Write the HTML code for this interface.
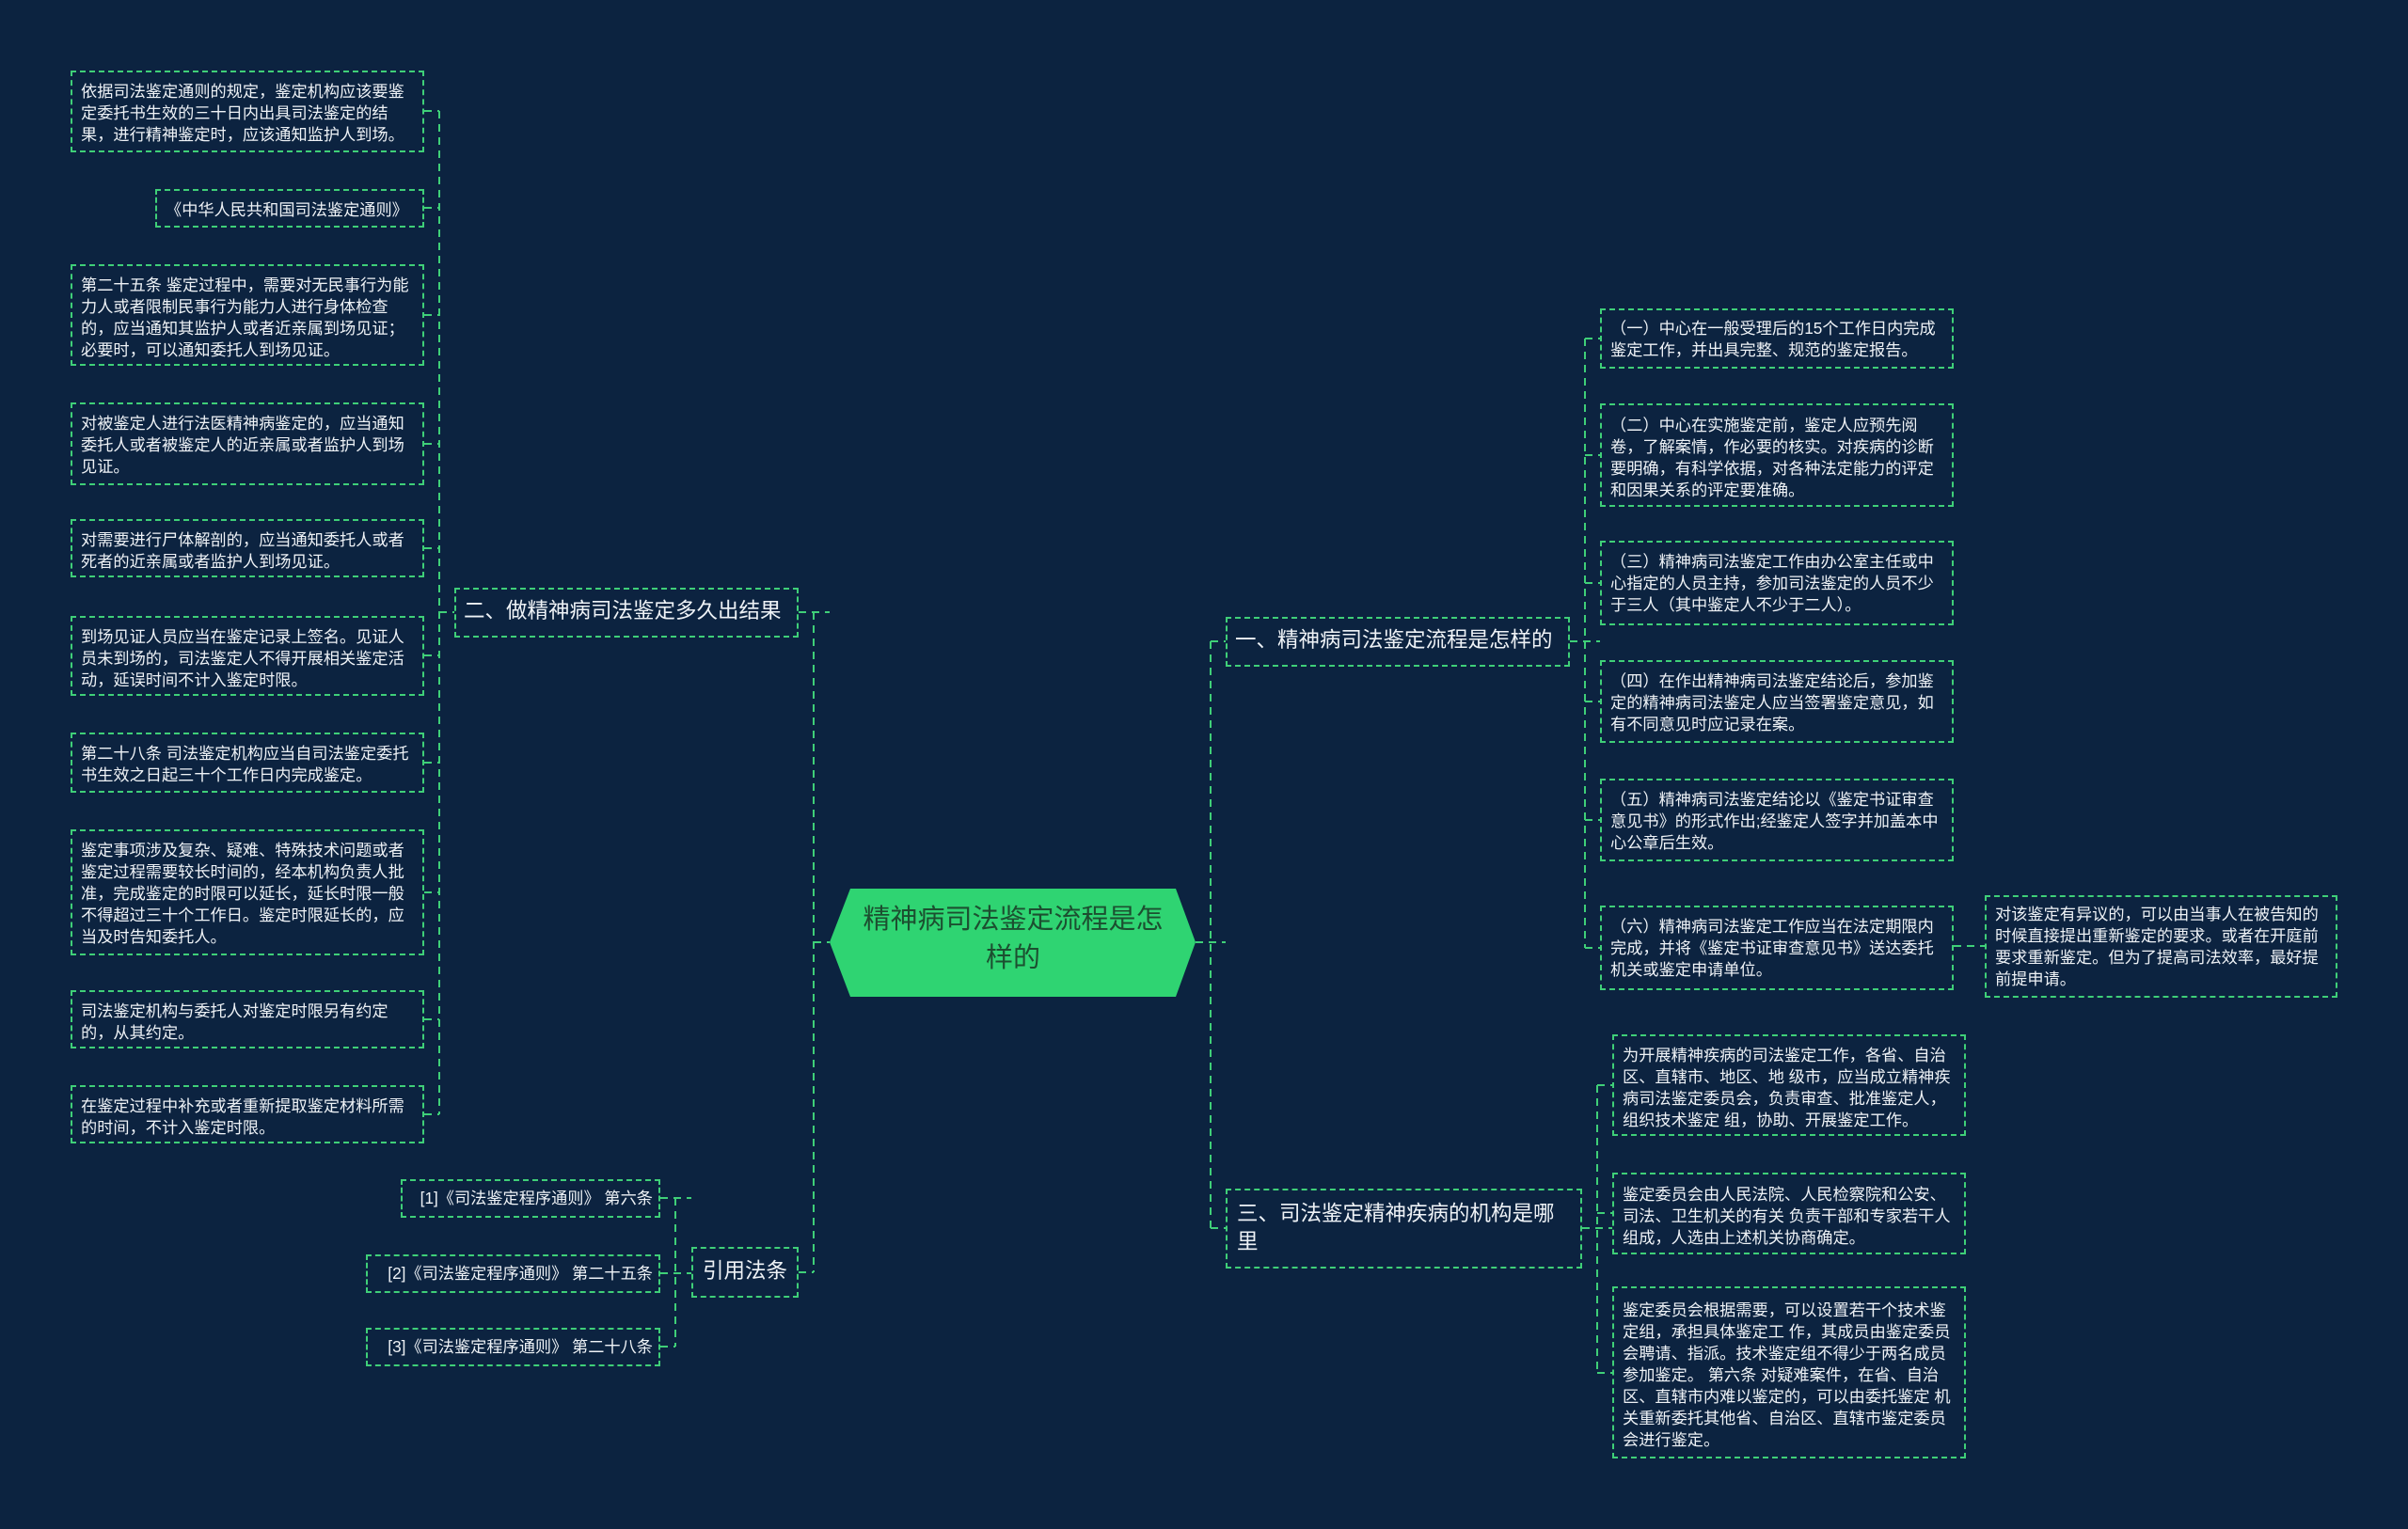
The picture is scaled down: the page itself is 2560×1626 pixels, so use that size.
<!DOCTYPE html>
<html><head><meta charset="utf-8">
<style>
html,body{margin:0;padding:0;}
body{width:2560px;height:1626px;background:#0c2340;position:relative;overflow:hidden;font-family:"Liberation Sans","Noto Sans CJK SC",sans-serif;}
.b{position:absolute;box-sizing:border-box;border:2px dashed #3fcf78;color:#eef2f6;font-size:17.2px;line-height:23px;padding:9px 6px 0 9px;}
.m{position:absolute;box-sizing:border-box;border:2px dashed #3fcf78;color:#eef2f6;font-size:22.5px;line-height:30px;padding:10px 8px;}
.nw{white-space:nowrap;}
svg{position:absolute;left:0;top:0;}
</style></head><body>
<svg width="2560" height="1626">
<g stroke="#3fcf78" stroke-width="2" stroke-dasharray="8,6" fill="none">
<path d="M467 118V1185"/>
<path d="M451 118H467M451 221H467M451 335H467M451 472H467M451 583H467M451 697H467M451 811H467M451 949H467M451 1084H467M451 1185H467M467 651H483"/>
<path d="M865 651V1353M849 651H882M849 1353H865M865 1002H882"/>
<path d="M718 1274V1432M702 1274H735M702 1354H735M702 1432H718"/>
<path d="M1287 682V1306M1271 1002H1303M1287 682H1303M1287 1306H1303"/>
<path d="M1685 360V1008M1669 682H1701M1685 360H1701M1685 484H1701M1685 620H1701M1685 746H1701M1685 872H1701M1685 1008H1701"/>
<path d="M2077 1006H2110"/>
<path d="M1698 1154V1460M1682 1306H1714M1698 1154H1714M1698 1290H1714M1698 1460H1714"/>
</g>
<polygon points="904,945 1250,945 1271,1002 1250,1060 904,1060 882,1002" fill="#2fd472"/>
</svg>
<div style="position:absolute;left:906px;top:958px;width:342px;text-align:center;font-size:29px;line-height:41px;color:#1c4f30;">精神病司法鉴定流程是怎<br>样的</div>

<div class="b" style="left:75px;top:75px;width:376px;height:87px;">依据司法鉴定通则的规定，鉴定机构应该要鉴定委托书生效的三十日内出具司法鉴定的结果，进行精神鉴定时，应该通知监护人到场。</div>
<div class="b nw" style="left:165px;top:201px;width:286px;height:41px;">《中华人民共和国司法鉴定通则》</div>
<div class="b" style="left:75px;top:281px;width:376px;height:108px;">第二十五条 鉴定过程中，需要对无民事行为能力人或者限制民事行为能力人进行身体检查的，应当通知其监护人或者近亲属到场见证；必要时，可以通知委托人到场见证。</div>
<div class="b" style="left:75px;top:428px;width:376px;height:88px;">对被鉴定人进行法医精神病鉴定的，应当通知委托人或者被鉴定人的近亲属或者监护人到场见证。</div>
<div class="b" style="left:75px;top:552px;width:376px;height:62px;">对需要进行尸体解剖的，应当通知委托人或者死者的近亲属或者监护人到场见证。</div>
<div class="b" style="left:75px;top:655px;width:376px;height:85px;">到场见证人员应当在鉴定记录上签名。见证人员未到场的，司法鉴定人不得开展相关鉴定活动，延误时间不计入鉴定时限。</div>
<div class="b" style="left:75px;top:779px;width:376px;height:64px;">第二十八条 司法鉴定机构应当自司法鉴定委托书生效之日起三十个工作日内完成鉴定。</div>
<div class="b" style="left:75px;top:882px;width:376px;height:134px;">鉴定事项涉及复杂、疑难、特殊技术问题或者鉴定过程需要较长时间的，经本机构负责人批准，完成鉴定的时限可以延长，延长时限一般不得超过三十个工作日。鉴定时限延长的，应当及时告知委托人。</div>
<div class="b" style="left:75px;top:1053px;width:376px;height:62px;">司法鉴定机构与委托人对鉴定时限另有约定的，从其约定。</div>
<div class="b" style="left:75px;top:1154px;width:376px;height:62px;">在鉴定过程中补充或者重新提取鉴定材料所需的时间，不计入鉴定时限。</div>

<div class="m nw" style="left:483px;top:625px;width:366px;height:53px;padding:8px 8px;">二、做精神病司法鉴定多久出结果</div>
<div class="m nw" style="left:735px;top:1326px;width:114px;height:54px;padding:9px 10px;">引用法条</div>
<div class="b nw" style="left:426px;top:1254px;width:276px;height:41px;text-align:right;padding-top:7px;">[1]《司法鉴定程序通则》 第六条</div>
<div class="b nw" style="left:389px;top:1334px;width:313px;height:41px;text-align:right;padding-top:7px;">[2]《司法鉴定程序通则》 第二十五条</div>
<div class="b nw" style="left:389px;top:1412px;width:313px;height:41px;text-align:right;padding-top:7px;">[3]《司法鉴定程序通则》 第二十八条</div>

<div class="m nw" style="left:1303px;top:656px;width:366px;height:53px;padding:8px 8px;">一、精神病司法鉴定流程是怎样的</div>
<div class="m" style="left:1303px;top:1264px;width:379px;height:85px;padding:10px 10px;">三、司法鉴定精神疾病的机构是哪里</div>

<div class="b" style="left:1701px;top:328px;width:376px;height:64px;padding-top:8px;">（一）中心在一般受理后的15个工作日内完成鉴定工作，并出具完整、规范的鉴定报告。</div>
<div class="b" style="left:1701px;top:429px;width:376px;height:110px;padding-top:10px;">（二）中心在实施鉴定前，鉴定人应预先阅卷，了解案情，作必要的核实。对疾病的诊断要明确，有科学依据，对各种法定能力的评定和因果关系的评定要准确。</div>
<div class="b" style="left:1701px;top:575px;width:376px;height:90px;">（三）精神病司法鉴定工作由办公室主任或中心指定的人员主持，参加司法鉴定的人员不少于三人（其中鉴定人不少于二人）。</div>
<div class="b" style="left:1701px;top:702px;width:376px;height:88px;">（四）在作出精神病司法鉴定结论后，参加鉴定的精神病司法鉴定人应当签署鉴定意见，如有不同意见时应记录在案。</div>
<div class="b" style="left:1701px;top:828px;width:376px;height:88px;">（五）精神病司法鉴定结论以《鉴定书证审查意见书》的形式作出;经鉴定人签字并加盖本中心公章后生效。</div>
<div class="b" style="left:1701px;top:963px;width:376px;height:90px;">（六）精神病司法鉴定工作应当在法定期限内完成，并将《鉴定书证审查意见书》送达委托机关或鉴定申请单位。</div>
<div class="b" style="left:2110px;top:952px;width:375px;height:109px;padding-top:7px;">对该鉴定有异议的，可以由当事人在被告知的时候直接提出重新鉴定的要求。或者在开庭前要求重新鉴定。但为了提高司法效率，最好提前提申请。</div>

<div class="b" style="left:1714px;top:1100px;width:376px;height:108px;padding-top:9px;">为开展精神疾病的司法鉴定工作，各省、自治区、直辖市、地区、地 级市，应当成立精神疾病司法鉴定委员会，负责审查、批准鉴定人，组织技术鉴定 组，协助、开展鉴定工作。</div>
<div class="b" style="left:1714px;top:1247px;width:376px;height:87px;padding-top:10px;">鉴定委员会由人民法院、人民检察院和公安、司法、卫生机关的有关 负责干部和专家若干人组成，人选由上述机关协商确定。</div>
<div class="b" style="left:1714px;top:1368px;width:376px;height:183px;padding-top:12px;">鉴定委员会根据需要，可以设置若干个技术鉴定组，承担具体鉴定工 作，其成员由鉴定委员会聘请、指派。技术鉴定组不得少于两名成员参加鉴定。 第六条 对疑难案件，在省、自治区、直辖市内难以鉴定的，可以由委托鉴定 机关重新委托其他省、自治区、直辖市鉴定委员会进行鉴定。</div>
</body></html>
